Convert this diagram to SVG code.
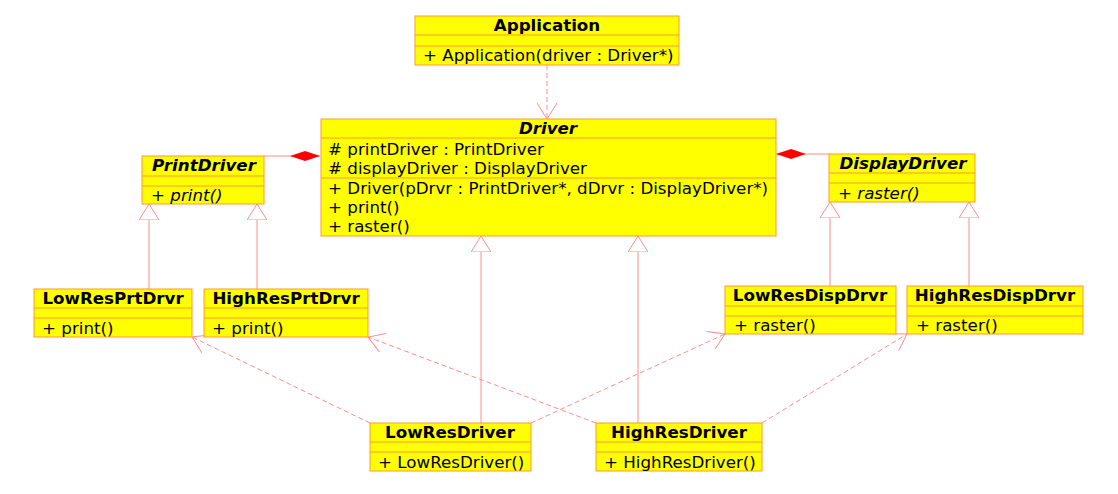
<svg xmlns="http://www.w3.org/2000/svg" width="1118" height="494" viewBox="0 0 1118 494">
<style>
.box{fill:#ffff00;stroke:#ff9933;stroke-width:1}
.sep{stroke:#ff9933;stroke-width:1}
text{font-family:"DejaVu Sans",sans-serif;font-size:16.7px;fill:#000}
.t{font-weight:bold;text-anchor:middle}
.ti{font-weight:bold;font-style:italic;text-anchor:middle}
.i{font-style:italic}
.ln{stroke:#ff8c8c;stroke-width:1;fill:none}
.dash{stroke:#ff8c8c;stroke-width:1;fill:none;stroke-dasharray:5,3}
</style>
<defs>
<marker id="tri" viewBox="0 0 16 20" refX="16" refY="10" markerWidth="16" markerHeight="20" markerUnits="userSpaceOnUse" orient="auto">
<path d="M0,0 L16,10 L0,20 Z" fill="#ffffff" stroke="#ff8c8c" stroke-width="1"/>
</marker>
<marker id="open" viewBox="0 0 16 20" refX="16" refY="10" markerWidth="16" markerHeight="20" markerUnits="userSpaceOnUse" orient="auto">
<path d="M0,0 L16,10 L0,20" fill="none" stroke="#ff8c8c" stroke-width="1"/>
</marker>
<marker id="dia" viewBox="0 0 30 10" refX="30" refY="5" markerWidth="30" markerHeight="10" markerUnits="userSpaceOnUse" orient="auto">
<path d="M0,5 L15,0 L30,5 L15,10 Z" fill="#ff0000"/>
</marker>
</defs>
<g id="connectors">
<line class="dash" x1="547" y1="65" x2="547" y2="119" marker-end="url(#open)"/>
<polyline class="ln" points="264,156 320,156" marker-end="url(#dia)"/>
<polyline class="ln" points="829,154 776,154" marker-end="url(#dia)"/>
<line class="ln" x1="149" y1="289" x2="149" y2="204" marker-end="url(#tri)"/>
<line class="ln" x1="257" y1="289" x2="257" y2="204" marker-end="url(#tri)"/>
<line class="ln" x1="830" y1="286" x2="830" y2="202" marker-end="url(#tri)"/>
<line class="ln" x1="969" y1="286" x2="969" y2="202" marker-end="url(#tri)"/>
<line class="ln" x1="481" y1="423" x2="481" y2="236" marker-end="url(#tri)"/>
<line class="ln" x1="638" y1="423" x2="638" y2="236" marker-end="url(#tri)"/>
<line class="dash" x1="370" y1="423" x2="192" y2="337" marker-end="url(#open)"/>
<line class="dash" x1="596" y1="423" x2="368" y2="337" marker-end="url(#open)"/>
<line class="dash" x1="531" y1="423" x2="725" y2="334" marker-end="url(#open)"/>
<line class="dash" x1="762" y1="423" x2="907" y2="334" marker-end="url(#open)"/>
</g>
<g id="Application">
<rect class="box" x="415" y="16" width="264" height="49"/>
<line class="sep" x1="415" y1="35" x2="679" y2="35"/>
<line class="sep" x1="415" y1="46" x2="679" y2="46"/>
<text class="t" x="547" y="31">Application</text>
<text x="423" y="61">+ Application(driver : Driver*)</text>
</g>
<g id="Driver">
<rect class="box" x="321" y="119" width="455" height="117"/>
<line class="sep" x1="321" y1="138" x2="776" y2="138"/>
<line class="sep" x1="321" y1="178" x2="776" y2="178"/>
<text class="ti" x="548" y="134">Driver</text>
<text x="328" y="155">#  printDriver : PrintDriver</text>
<text x="328" y="174">#  displayDriver : DisplayDriver</text>
<text x="328" y="194">+ Driver(pDrvr : PrintDriver*, dDrvr : DisplayDriver*)</text>
<text x="328" y="213">+ print()</text>
<text x="328" y="232">+ raster()</text>
</g>
<g id="PrintDriver">
<rect class="box" x="142" y="156" width="122" height="48"/>
<line class="sep" x1="142" y1="176" x2="264" y2="176"/>
<line class="sep" x1="142" y1="186" x2="264" y2="186"/>
<text class="ti" x="204" y="171">PrintDriver</text>
<text class="i" x="151" y="201">+ print()</text>
</g>
<g id="DisplayDriver">
<rect class="box" x="829" y="154" width="146" height="48"/>
<line class="sep" x1="829" y1="173" x2="975" y2="173"/>
<line class="sep" x1="829" y1="183" x2="975" y2="183"/>
<text class="ti" x="903" y="169">DisplayDriver</text>
<text class="i" x="838" y="199">+ raster()</text>
</g>
<g id="LowResPrtDrvr">
<rect class="box" x="34" y="289" width="158" height="48"/>
<line class="sep" x1="34" y1="308" x2="192" y2="308"/>
<line class="sep" x1="34" y1="318" x2="192" y2="318"/>
<text class="t" x="113" y="304">LowResPrtDrvr</text>
<text x="42" y="334">+ print()</text>
</g>
<g id="HighResPrtDrvr">
<rect class="box" x="204" y="289" width="164" height="48"/>
<line class="sep" x1="204" y1="308" x2="368" y2="308"/>
<line class="sep" x1="204" y1="318" x2="368" y2="318"/>
<text class="t" x="286" y="304">HighResPrtDrvr</text>
<text x="212" y="334">+ print()</text>
</g>
<g id="LowResDispDrvr">
<rect class="box" x="725" y="286" width="171" height="48"/>
<line class="sep" x1="725" y1="306" x2="896" y2="306"/>
<line class="sep" x1="725" y1="316" x2="896" y2="316"/>
<text class="t" x="810" y="301">LowResDispDrvr</text>
<text x="734" y="331">+ raster()</text>
</g>
<g id="HighResDispDrvr">
<rect class="box" x="907" y="286" width="176" height="48"/>
<line class="sep" x1="907" y1="306" x2="1083" y2="306"/>
<line class="sep" x1="907" y1="316" x2="1083" y2="316"/>
<text class="t" x="995" y="301">HighResDispDrvr</text>
<text x="916" y="331">+ raster()</text>
</g>
<g id="LowResDriver">
<rect class="box" x="370" y="423" width="161" height="48"/>
<line class="sep" x1="370" y1="442" x2="531" y2="442"/>
<line class="sep" x1="370" y1="452" x2="531" y2="452"/>
<text class="t" x="450" y="438">LowResDriver</text>
<text x="378" y="468">+ LowResDriver()</text>
</g>
<g id="HighResDriver">
<rect class="box" x="596" y="423" width="166" height="48"/>
<line class="sep" x1="596" y1="442" x2="762" y2="442"/>
<line class="sep" x1="596" y1="452" x2="762" y2="452"/>
<text class="t" x="679" y="438">HighResDriver</text>
<text x="604" y="468">+ HighResDriver()</text>
</g>
</svg>
